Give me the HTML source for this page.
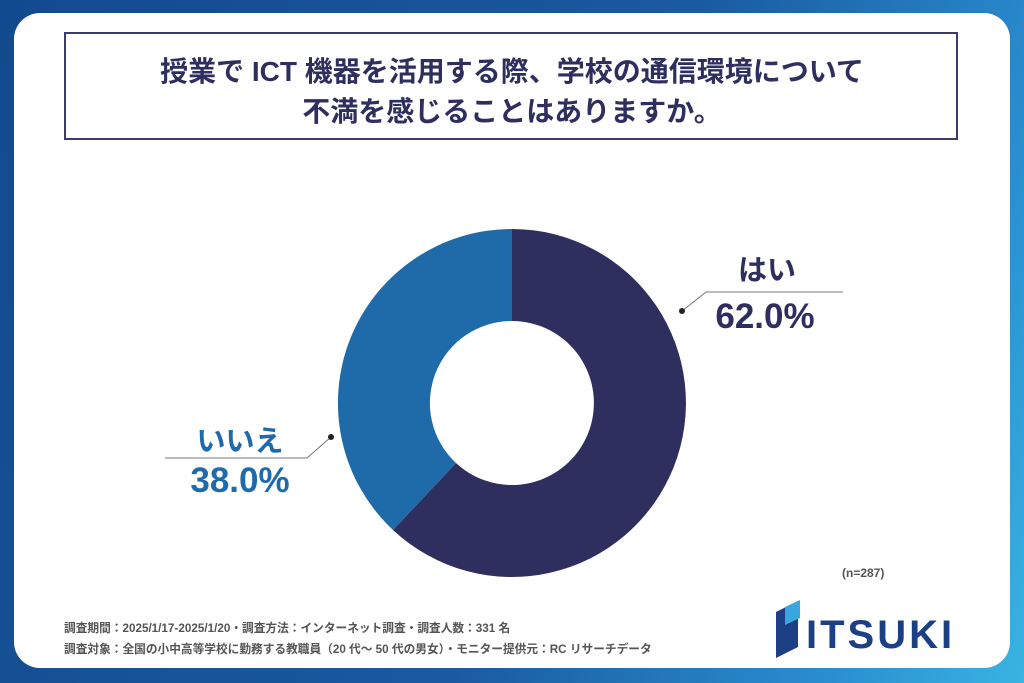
<!DOCTYPE html>
<html><head><meta charset="utf-8"><style>
body{margin:0;width:1024px;height:683px;overflow:hidden;font-family:"Liberation Sans","Noto Sans CJK JP",sans-serif;}
.bg{position:absolute;left:0;top:0;width:1024px;height:683px;background:linear-gradient(110deg,#124a8e 0%,#1a5aa0 55%,#2a8fd0 85%,#39b4e2 100%);}
.card{position:absolute;left:14px;top:13px;width:996px;height:655px;background:#fff;border-radius:26px;}
.title{position:absolute;left:64px;top:32px;width:894px;height:108px;border:2px solid #3a3c6c;box-sizing:border-box;}
.t{position:absolute;left:0;width:100%;text-align:center;font-weight:bold;color:#2e2f5e;font-size:28px;}
.txt{position:absolute;font-weight:bold;}
.foot{position:absolute;left:64px;font-size:11.7px;color:#555;font-weight:bold;}
</style></head><body>
<div class="bg"></div>
<div class="card"></div>
<div class="title"></div>
<div class="t" style="top:50px">授業で ICT 機器を活用する際、学校の通信環境について</div>
<div class="t" style="top:90px">不満を感じることはありますか。</div>
<svg style="position:absolute;left:0;top:0" width="1024" height="683">
<path d="M512 229 A174 174 0 1 1 393 530 L456 463 A82 82 0 1 0 512 321 Z" fill="#2e2f5e"/>
<path d="M393 530 A174 174 0 0 1 512 229 L512 321 A82 82 0 0 0 456 463 Z" fill="#1f6aa8"/>
<polyline points="682,311 706,292 843,292" fill="none" stroke="#777" stroke-width="1"/>
<circle cx="682" cy="311" r="3" fill="#222"/>
<polyline points="331,437 307,458 165,458" fill="none" stroke="#777" stroke-width="1"/>
<circle cx="331" cy="437" r="3" fill="#222"/>
<polygon points="776,612 798,601 798,647 776,658" fill="#1d3f86"/>
<polygon points="785,607 800,600 800,618 785,625" fill="#3aa5de"/>
</svg>
<div class="txt" style="left:727px;top:247px;width:80px;text-align:center;font-size:29px;color:#2e2f5e">はい</div>
<div class="txt" style="left:705px;top:297px;width:120px;text-align:center;font-size:35px;color:#2e2f5e">62.0%</div>
<div class="txt" style="left:185px;top:418px;width:110px;text-align:center;font-size:29px;color:#1f6aa8">いいえ</div>
<div class="txt" style="left:180px;top:461px;width:120px;text-align:center;font-size:35px;color:#1f6aa8">38.0%</div>
<div class="txt" style="left:842px;top:566px;font-size:12px;color:#555">(n=287)</div>
<div class="txt" style="left:806px;top:612px;font-size:40px;color:#1d3f86;letter-spacing:3px;line-height:46px">ITSUKI</div>
<div class="foot" style="top:619px">調査期間：2025/1/17-2025/1/20・調査方法：インターネット調査・調査人数：331 名</div>
<div class="foot" style="top:640px">調査対象：全国の小中高等学校に勤務する教職員（20 代〜 50 代の男女）・モニター提供元：RC リサーチデータ</div>
</body></html>
